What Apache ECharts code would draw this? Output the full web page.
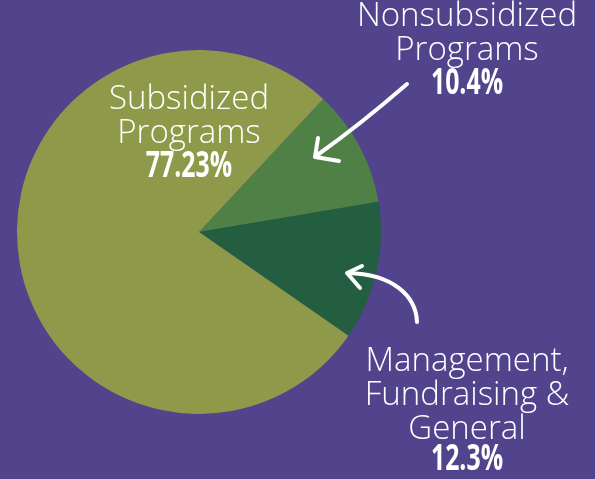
<!DOCTYPE html>
<html>
<head>
<meta charset="utf-8">
<script src="https://cdn.jsdelivr.net/npm/echarts@6/dist/echarts.min.js"></script>
<style>
html,body{margin:0;padding:0;background:#52438D;}
#c{width:595px;height:479px;}
</style>
</head>
<body>
<div id="c"></div>
<script>
// Data
const categories = ['Nonsubsidized\nPrograms', 'Management,\nFundraising &\nGeneral', 'Subsidized\nPrograms'];
const percentages = [10.4, 12.3, 77.23];
const percentLabels = ['10.4%', '12.3%', '77.23%'];

// Styling / layout (not data)
const sliceColors = ['#4F8046', '#245E40', '#8E9A4A'];
const namePos = [[467, 33.5], [467, 396], [189, 116.5]];
const numPos = [[467, 84], [467, 460], [189, 167]];
const textFont = '"Open Sans", "Lato", sans-serif';
const numFont = '"Open Sans", sans-serif';

const chart = echarts.init(document.getElementById('c'), null, {renderer: 'canvas'});

const white = '#FFFFFF';
const arrowStyle = {stroke: white, lineWidth: 4, fill: null, lineCap: 'round', lineJoin: 'round'};

const numberTexts = percentLabels.map((t, i) => ({
  type: 'text', silent: true, z: 10,
  x: numPos[i][0], y: numPos[i][1], scaleX: 0.71,
  style: {
    text: t, x: 0, y: 0, fill: white,
    font: 'bold 35px ' + numFont,
    align: 'center', verticalAlign: 'middle'
  }
}));

chart.setOption({
  backgroundColor: '#52438D',
  animation: false,
  series: [{
    type: 'pie',
    center: [199, 232],
    radius: 182,
    startAngle: 47,
    clockwise: true,
    silent: true,
    avoidLabelOverlap: false,
    emphasis: {disabled: true},
    labelLine: {show: false},
    data: categories.map((c, i) => ({
      name: c,
      value: percentages[i],
      itemStyle: {color: sliceColors[i], borderWidth: 0}
    })),
    label: {
      show: true,
      position: 'outside',
      overflow: 'none',
      formatter: '{b}',
      fontFamily: textFont,
      fontWeight: 300,
      fontSize: 33,
      lineHeight: 34,
      color: white,
      align: 'center'
    },
    labelLayout: p => ({
      x: namePos[p.dataIndex][0],
      y: namePos[p.dataIndex][1],
      align: 'center',
      verticalAlign: 'middle',
      hideOverlap: false
    })
  }],
  graphic: numberTexts.concat([
    {type: 'bezierCurve', silent: true, z: 10,
     shape: {x1: 407, y1: 84, x2: 316, y2: 156, cpx1: 361, cpy1: 124},
     style: arrowStyle},
    {type: 'polyline', silent: true, z: 10,
     shape: {points: [[318, 138], [315, 157], [339, 161]]},
     style: arrowStyle},
    {type: 'bezierCurve', silent: true, z: 10,
     shape: {x1: 417, y1: 322, x2: 348, y2: 273, cpx1: 416, cpy1: 296, cpx2: 393, cpy2: 274},
     style: arrowStyle},
    {type: 'polyline', silent: true, z: 10,
     shape: {points: [[362, 266], [347, 273], [360, 288]]},
     style: arrowStyle}
  ])
});
</script>
</body>
</html>
